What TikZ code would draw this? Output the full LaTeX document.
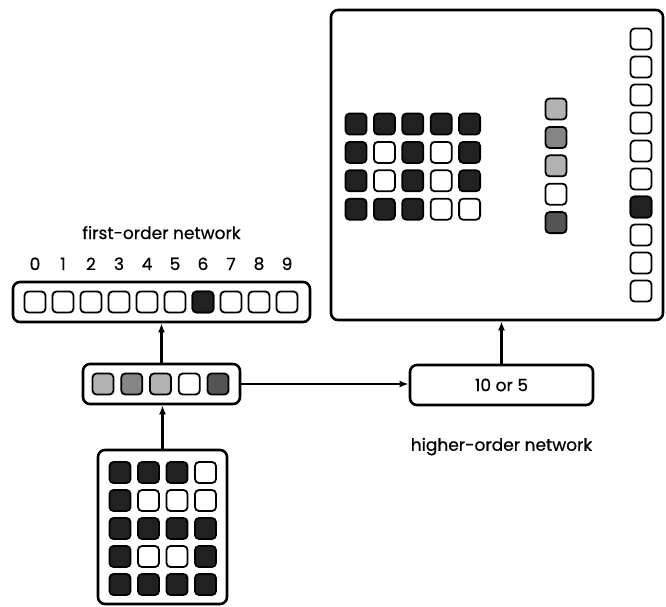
\documentclass[tikz,border=0pt]{standalone}
\usepackage{fontspec}
\setmainfont{Poppins}[FakeBold=0.6]
\usetikzlibrary{arrows.meta, positioning}

\definecolor{ink}{gray}{0.13}
\definecolor{deep}{gray}{0.33}
\definecolor{mid}{gray}{0.52}
\definecolor{pale}{gray}{0.70}
\colorlet{paper}{white}

\begin{document}
\begin{tikzpicture}[x=1pt, y=-1pt,
        box/.style={draw, line width=2.6pt, rounded corners=7pt, inner sep=0pt},
        cell/.style={draw, line width=1.8pt, rounded corners=4pt, minimum size=21pt, inner sep=0pt, fill=#1},
        cell/.default=paper,
        lbl/.style={font=\fontsize{17}{20}\selectfont},
        link/.style={line width=2.4pt, ->},
        >={Latex[length=9pt, width=7pt]}]
        \useasboundingbox (0,0) rectangle (666,606);

        %first-order network
        \node[box, minimum width=297pt, minimum height=40pt](fo) at (161.5,302){};
        \foreach \i in {0,...,9}{
            \node[cell](fo-\i) at (35+28*\i,302){};
            \node[lbl, above=17pt of fo-\i](d\i){\i};
        }
        \node[cell=ink] at (fo-6){};
        \node[lbl, above=38pt of fo](folbl){first-order network};

        %hidden layer
        \node[box, minimum width=157pt, minimum height=40pt](hid) at (161.5,384){};
        \foreach \c [count=\k from 0] in {pale,mid,pale,paper,deep}
            \node[cell=\c](hid-\k) at (103+28.75*\k,384){};

        %input digit
        \node[box, minimum width=129pt, minimum height=154pt](inp) at (162.5,527){};
        \foreach \row [count=\r from 0] in {{ink,ink,ink,paper},{ink,paper,paper,paper},{ink,ink,ink,ink},{ink,paper,paper,ink},{ink,ink,ink,ink}}
            \foreach \c [count=\k from 0] in \row
                \node[cell=\c](inp-\r-\k) at (120+28.5*\k,472.5+28*\r){};

        %higher-order network
        \node[box, minimum width=183pt, minimum height=40pt, lbl](ho) at (501.5,385){10 or 5};
        \node[lbl, below=28pt of ho](holbl){higher-order network};

        %output of the higher-order network
        \node[box, minimum width=332pt, minimum height=310pt](out) at (497,165){};
        \foreach \row [count=\r from 0] in {{ink,ink,ink,ink,ink},{ink,paper,ink,paper,ink},{ink,paper,ink,paper,ink},{ink,ink,ink,paper,paper}}
            \foreach \c [count=\k from 0] in \row
                \node[cell=\c](grid-\r-\k) at (356+28.4*\k,124+28.4*\r){};
        \foreach \c [count=\k from 0] in {pale,mid,pale,paper,deep}
            \node[cell=\c](copy-\k) at (556,109+28.4*\k){};
        \foreach \i in {0,...,9}
            \node[cell](cls-\i) at (641,39+28*\i){};
        \node[cell=ink] at (cls-6){};

        \draw[link] (inp.north) -- (inp.north |- hid.south);
        \draw[link] (hid.north) -- (hid.north |- fo.south);
        \draw[link] (hid.east) -- (hid.east -| ho.west);
        \draw[link] (ho.north) -- (ho.north |- out.south);
\end{tikzpicture}
\end{document}
